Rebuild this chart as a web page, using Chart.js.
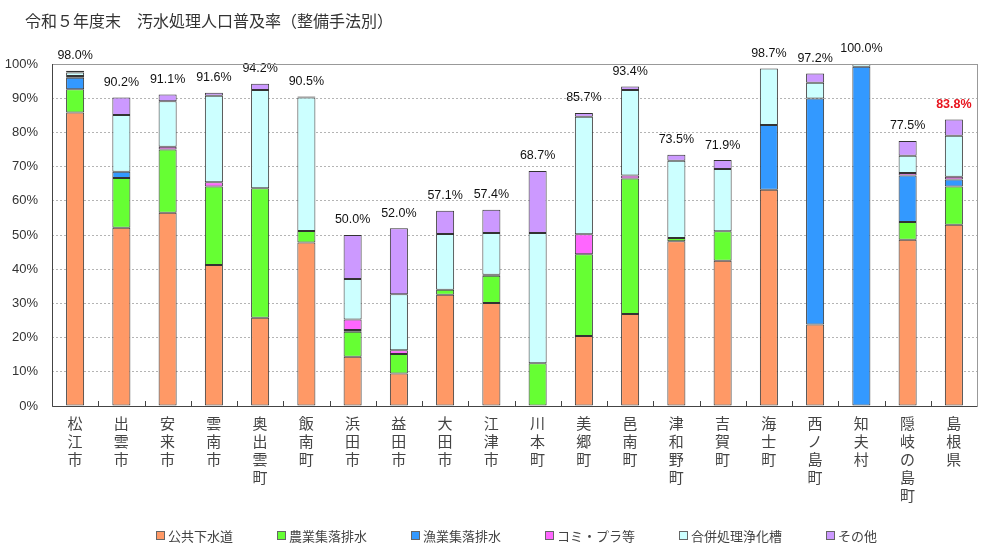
<!DOCTYPE html>
<html>
<head>
<meta charset="utf-8">
<script src="https://cdn.jsdelivr.net/npm/chart.js@4.4.1/dist/chart.umd.min.js"></script>
<style>
  body { margin: 0; background: #fff; }
  #wrap { position: relative; width: 990px; height: 555px; }
  #title {
    position: absolute; left: 25px; top: 8px;
    font: 16px "Noto Sans CJK JP", sans-serif; color: #333;
  }
  #legend {
    position: absolute; left: 156px; top: 526px;
    display: flex; gap: 44px;
    font: 13px "Noto Sans CJK JP", sans-serif; color: #444;
  }
  #legend span.item { display: flex; align-items: center; }
  #legend span.box {
    display: inline-block; width: 7px; height: 7px; margin-right: 3px;
    border: 1px solid #666;
  }
</style>
</head>
<body>
<div id="wrap">
  <div id="title">令和５年度末　汚水処理人口普及率（整備手法別）</div>
  <canvas id="sewageChart" width="990" height="555"></canvas>
  <div id="legend"></div>
</div>
<script>
var categories = ['松江市','出雲市','安来市','雲南市','奥出雲町','飯南町','浜田市','益田市','大田市','江津市',
                  '川本町','美郷町','邑南町','津和野町','吉賀町','海士町','西ノ島町','知夫村','隠岐の島町','島根県'];

var koukyou  = [85.8,52.1,56.5,41.2,25.8,47.8,14.4, 9.5,32.5,30.1, 0.0,20.5,26.9,48.2,42.5,63.2,23.8, 0.0,48.6,53.0];
var nougyou  = [ 6.8,14.6,18.5,23.0,37.9, 3.4, 7.3, 5.7, 1.5, 8.0,12.5,23.9,39.6, 0.9, 8.6, 0.0, 0.0, 0.0, 5.2,11.2];
var gyogyou  = [ 3.4, 1.8, 0.0, 0.0, 0.0, 0.0, 0.5, 0.0, 0.0, 0.3, 0.0, 0.0, 0.0, 0.0, 0.0,19.0,66.1,99.2,13.6, 2.0];
var komipura = [ 0.5, 0.0, 0.8, 1.2, 0.0, 0.0, 3.1, 1.1, 0.0, 0.0, 0.0, 5.8, 0.9, 0.0, 0.0, 0.0, 0.0, 0.0, 0.7, 0.8];
var gappei   = [ 1.0,16.6,13.3,25.3,28.7,39.0,11.8,16.4,16.3,12.2,38.1,34.4,25.0,22.6,18.2,16.5, 4.6, 0.8, 5.1,12.0];
var sonota   = [ 0.5, 5.1, 2.0, 0.9, 1.8, 0.3,12.9,19.3, 6.8, 6.8,18.1, 1.1, 1.0, 1.8, 2.6, 0.0, 2.7, 0.0, 4.3, 4.8];

var totals = [98.0,90.2,91.1,91.6,94.2,90.5,50.0,52.0,57.1,57.4,68.7,85.7,93.4,73.5,71.9,98.7,97.2,100.0,77.5,83.8];

var yTicks = [0,10,20,30,40,50,60,70,80,90,100];

// stack totals written over each bar
var totalLabels = {
  id: 'totalLabels',
  afterDatasetsDraw: function(chart) {
    var ctx = chart.ctx;
    var y = chart.scales.y;
    var meta = chart.getDatasetMeta(0);
    ctx.save();
    ctx.textAlign = 'center';
    ctx.textBaseline = 'middle';
    totals.forEach(function(t, i) {
      var last = i === totals.length - 1;
      ctx.font = (last ? 'bold ' : '') + '12.5px "Liberation Sans", Arial, sans-serif';
      ctx.fillStyle = last ? '#e8141e' : '#111';
      ctx.fillText(t.toFixed(1) + '%', meta.data[i].x, y.getPixelForValue(t) - 15);
    });
    ctx.restore();
  }
};

// plot box and small inner ticks between categories
var plotFrame = {
  id: 'plotFrame',
  afterDraw: function(chart) {
    var a = chart.chartArea;
    var ctx = chart.ctx;
    ctx.save();
    ctx.strokeStyle = '#999';
    ctx.lineWidth = 1;
    ctx.strokeRect(a.left + 0.5, a.top + 0.5, a.right - a.left, a.bottom - a.top);
    ctx.strokeStyle = '#444';
    ctx.beginPath();
    ctx.moveTo(a.left + 0.5, a.top);
    ctx.lineTo(a.left + 0.5, a.bottom + 0.5);
    ctx.lineTo(a.right, a.bottom + 0.5);
    var step = (a.right - a.left) / categories.length;
    for (var i = 1; i < categories.length; i++) {
      var x = Math.round(a.left + i * step) + 0.5;
      ctx.moveTo(x, a.bottom);
      ctx.lineTo(x, a.bottom - 5);
    }
    ctx.stroke();
    ctx.restore();
  }
};

var ctx = document.getElementById('sewageChart').getContext('2d');
var myChart = new Chart(ctx, {
  type: 'bar',
  data: {
    labels: categories.map(function(c) { return c.split(''); }),
    datasets: [
      { label: '公共下水道',     data: koukyou,  backgroundColor: '#ff9966' },
      { label: '農業集落排水',   data: nougyou,  backgroundColor: '#66ff33' },
      { label: '漁業集落排水',   data: gyogyou,  backgroundColor: '#3399ff' },
      { label: 'コミ・プラ等',   data: komipura, backgroundColor: '#ff66ff' },
      { label: '合併処理浄化槽', data: gappei,   backgroundColor: '#ccffff' },
      { label: 'その他',         data: sonota,   backgroundColor: '#cc99ff' }
    ].map(function(d) {
      d.borderColor = '#333';
      d.borderWidth = 1;
      d.borderSkipped = false;
      d.barPercentage = 0.39;
      d.categoryPercentage = 1.0;
      return d;
    })
  },
  options: {
    responsive: false,
    animation: false,
    devicePixelRatio: 1,
    layout: { padding: { left: 0, right: 13, top: 64, bottom: 0 } },
    plugins: {
      legend: { display: false },
      tooltip: { enabled: false }
    },
    scales: {
      x: {
        stacked: true,
        grid: { display: false },
        border: { display: false },
        ticks: {
          autoSkip: false,
          maxRotation: 0,
          padding: 0,
          color: '#444',
          font: { family: '"Noto Sans CJK JP", sans-serif', size: 15, lineHeight: 1.2 }
        },
        afterFit: function(scale) { scale.height = 149; }
      },
      y: {
        stacked: true,
        min: 0,
        max: 100,
        afterBuildTicks: function(scale) {
          scale.ticks = yTicks.map(function(v) { return { value: v }; });
        },
        grid: { color: '#b4b4b4', drawTicks: false },
        border: { display: false, dash: [2, 2] },
        ticks: {
          padding: 14,
          color: '#333',
          font: { family: '"Liberation Sans", Arial, sans-serif', size: 13 },
          callback: function(v) { return v + '%'; }
        },
        afterFit: function(scale) { scale.width = 52; }
      }
    }
  },
  plugins: [totalLabels, plotFrame]
});

// legend built from the chart's datasets
var legend = document.getElementById('legend');
myChart.data.datasets.forEach(function(d) {
  var item = document.createElement('span');
  item.className = 'item';
  var box = document.createElement('span');
  box.className = 'box';
  box.style.background = d.backgroundColor;
  item.appendChild(box);
  item.appendChild(document.createTextNode(d.label));
  legend.appendChild(item);
});
</script>
</body>
</html>
